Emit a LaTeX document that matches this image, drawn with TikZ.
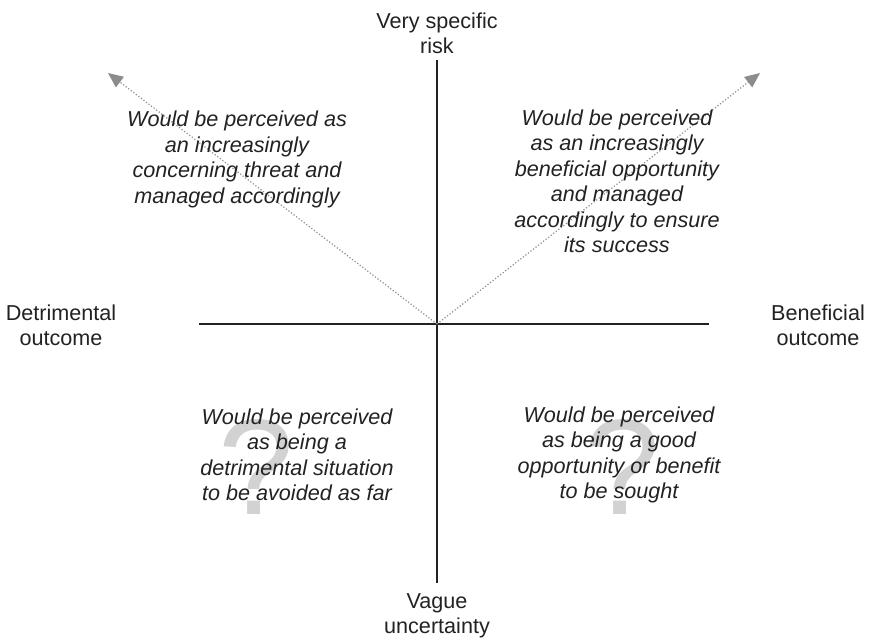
\documentclass[tikz,border=0pt]{standalone}
\usepackage{fontspec}
\setmainfont{Liberation Sans}
\usepackage{tikz}
\usetikzlibrary{arrows.meta}
\definecolor{q1}{HTML}{D2D2D2}
\definecolor{q2}{HTML}{8C8C8C}
\definecolor{q3}{HTML}{222222}
\tikzset{
  quadtext/.style={align=center, font=\fontsize{21.6}{25.5}\selectfont\itshape, text=q3, inner sep=0pt},
  axislabel/.style={align=center, font=\fontsize{21.6}{25}\selectfont, text=q3, inner sep=0pt},
  qmark/.style={font=\fontsize{136}{136}\selectfont, text=q1, inner sep=0pt, anchor=base},
  axisline/.style={q3, line width=1.5pt},
  trend/.style={q2, dotted, line width=1.2pt, -{Triangle[length=15pt,width=13pt]}}
}

\begin{document}
\begin{tikzpicture}[x=1pt,y=-1pt]
\useasboundingbox (0,0) rectangle (874,640);
\coordinate (origin) at (437,324);
\coordinate (top) at (437,60);
\coordinate (bottom) at (437,583);
\coordinate (left) at (199,324);
\coordinate (right) at (709,324);
\coordinate (threat) at (108,73);
\coordinate (chance) at (760,73);

\node[qmark] (qleft) at (256,514) {?};
\node[qmark] (qright) at (622,514) {?};

\draw[axisline] (top) -- (bottom);
\draw[axisline] (left) -- (right);
\draw[trend] (origin) -- (threat);
\draw[trend] (origin) -- (chance);

\node[axislabel] (specific) at (437,33.5) {Very specific\\risk};
\node[axislabel] (vague) at (437,615.5) {Vague\\uncertainty};
\node[axislabel] (detrimental) at (61,325.5) {Detrimental\\outcome};
\node[axislabel] (beneficial) at (818,325.5) {Beneficial\\outcome};

\node[quadtext] (threattext) at (237,159.5) {Would be perceived as\\an increasingly\\concerning threat and\\managed accordingly};
\node[quadtext] (chancetext) at (617,181.5) {Would be perceived\\as an increasingly\\beneficial opportunity\\and managed\\accordingly to ensure\\its success};
\node[quadtext] (avoidtext) at (297,455) {Would be perceived\\as being a\\detrimental situation\\to be avoided as far};
\node[quadtext] (sougttext) at (619,455) {Would be perceived\\as being a good\\opportunity or benefit\\to be sought};
\end{tikzpicture}
\end{document}
